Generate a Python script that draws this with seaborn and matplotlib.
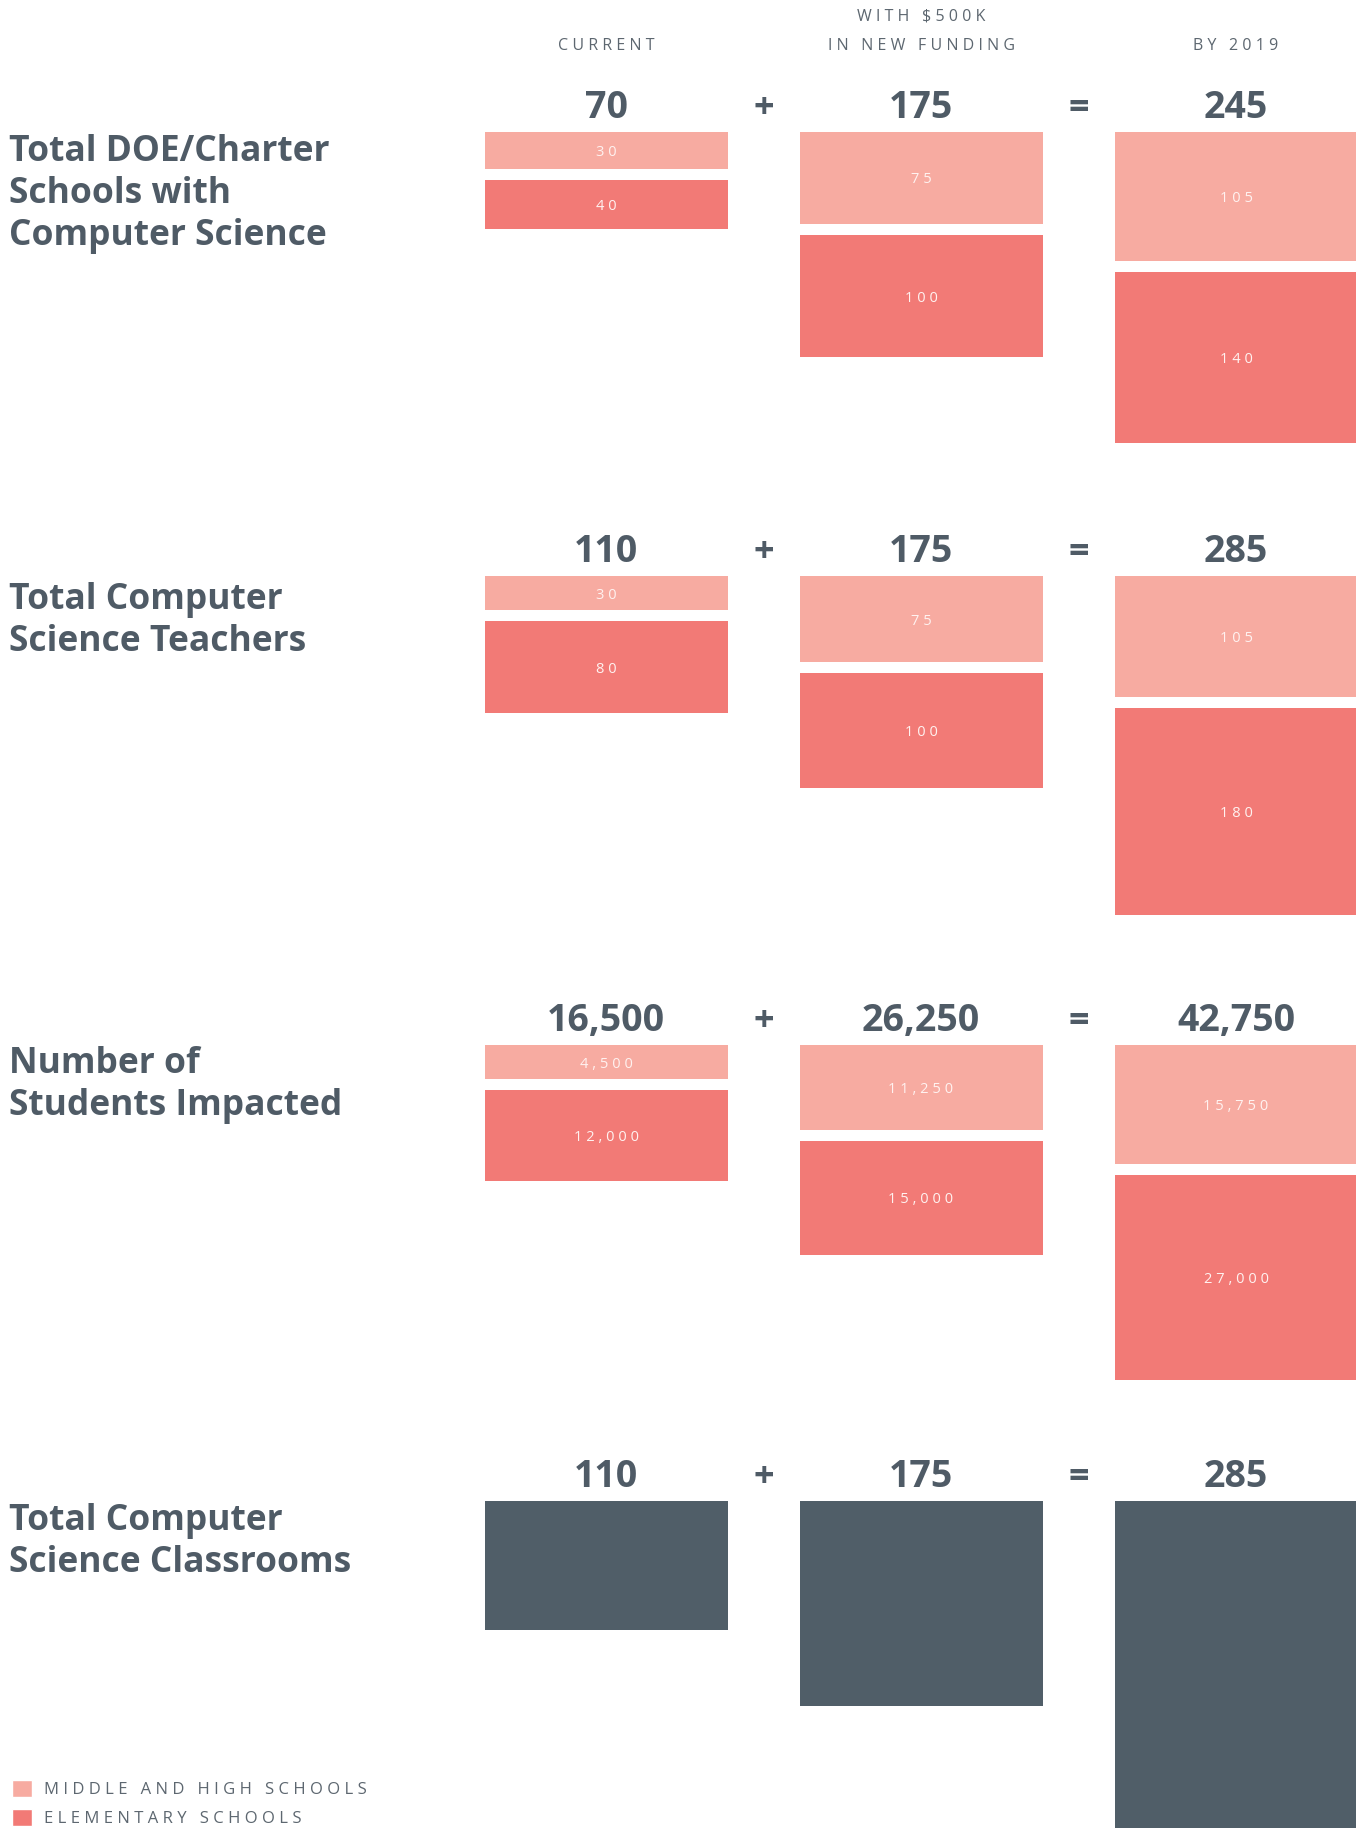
import matplotlib
matplotlib.use("Agg")
import matplotlib.pyplot as plt
import matplotlib.transforms as mtransforms
from matplotlib.patches import Patch
import pandas as pd
import seaborn as sns

# data
column_keys = ["current", "funding", "by2019"]
column_headers = [["CURRENT"], ["WITH $500K", "IN NEW FUNDING"], ["BY 2019"]]
section_titles = [
    ["Total DOE/Charter", "Schools with", "Computer Science"],
    ["Total Computer", "Science Teachers"],
    ["Number of", "Students Impacted"],
    ["Total Computer", "Science Classrooms"],
]
middle_high = [[30, 75, 105], [30, 75, 105], [4500, 11250, 15750]]
elementary = [[40, 100, 140], [80, 100, 180], [12000, 15000, 27000]]
classrooms = [110, 175, 285]
legend_labels = ["MIDDLE AND HIGH SCHOOLS", "ELEMENTARY SCHOOLS"]

# style
MID = "#f7aba1"
ELEM = "#f27a76"
DARK = "#505e68"
TXT = "#4f5b66"
LIGHT_TXT = "#5d6770"
BAR_TXT = "#fff2f0"
W, H = 1356, 1828

sec_top = [132, 576, 1045, 1501]      # px from top
sec_height = [330, 370, 360, 327]
px_per_unit = [1.225, 1.15, 0.00757, 1.17]
title_base = [161, 609, 1073, 1530]
GAP = 11
BW = 243 / 315

sns.set_theme(style="white")
plt.rcParams["font.family"] = ["Open Sans", "DejaVu Sans"]


def spaced(s):
    return "\u2009\u200a".join(s)


def rect(x, top, w, h):
    return [x / W, 1 - (top + h) / H, w / W, h / H]


fig = plt.figure(figsize=(W / 100, H / 100), dpi=100)

axes = []
for i in range(4):
    ax = fig.add_axes(rect(448.5, sec_top[i], 945, sec_height[i]))
    k = px_per_unit[i]
    gap = GAP / k
    if i < 3:
        mid, elem = middle_high[i], elementary[i]
        df = pd.DataFrame({"col": column_keys, "mid": mid, "elem": elem})
        sns.barplot(data=df, x="col", y="mid", color=MID, width=BW,
                    saturation=1, linewidth=0, ax=ax)
        sns.barplot(data=df, x="col", y="elem", color=ELEM, width=BW,
                    saturation=1, linewidth=0, ax=ax,
                    bottom=[m + gap for m in mid])
        totals = [m + e for m, e in zip(mid, elem)]
        for j in range(3):
            ax.text(j, mid[j] / 2, spaced(f"{mid[j]:,}"), ha="center",
                    va="center_baseline", color=BAR_TXT, fontsize=10.5)
            ax.text(j, mid[j] + gap + elem[j] / 2, spaced(f"{elem[j]:,}"),
                    ha="center", va="center_baseline", color=BAR_TXT,
                    fontsize=10.5)
    else:
        df = pd.DataFrame({"col": column_keys, "rooms": classrooms})
        sns.barplot(data=df, x="col", y="rooms", color=DARK, width=BW,
                    saturation=1, linewidth=0, ax=ax)
        totals = classrooms
    ax.set_ylim(sec_height[i] / k, 0)
    ax.set_xlim(-0.5, 2.5)
    ax.set_axis_off()

    for j in range(3):
        ax.annotate(f"{totals[j]:,}", xy=(j, 0), xytext=(0, 10),
                    textcoords="offset points", ha="center", va="baseline",
                    fontsize=27, fontweight="bold", color=TXT,
                    annotation_clip=False)
    for xpos, sym in [(0.5, "+"), (1.5, "=")]:
        ax.annotate(sym, xy=(xpos, 0), xytext=(0, 10),
                    textcoords="offset points", ha="center", va="baseline",
                    fontsize=26, fontweight="bold", color=TXT,
                    annotation_clip=False)

    for n, line in enumerate(section_titles[i]):
        fig.text(9 / W, 1 - (title_base[i] + 42 * n) / H, line,
                 ha="left", va="baseline", fontsize=25.5, fontweight="bold",
                 color=TXT)
    axes.append(ax)

# column headers
trans = mtransforms.blended_transform_factory(axes[0].transData, fig.transFigure)
for j, lines in enumerate(column_headers):
    for n, line in enumerate(reversed(lines)):
        fig.text(j, 1 - (50 - 29 * n) / H, spaced(line), transform=trans,
                 ha="center", va="baseline", fontsize=11.5, color=LIGHT_TXT)

handles = [Patch(facecolor=MID, label=spaced(legend_labels[0])),
           Patch(facecolor=ELEM, label=spaced(legend_labels[1]))]
fig.legend(handles=handles, loc="lower left", bbox_to_anchor=(12 / W, 1 / H),
           frameon=False, handlelength=1.2, handleheight=1.2,
           handletextpad=0.75, labelspacing=0.65, borderpad=0,
           borderaxespad=0, labelcolor=LIGHT_TXT, prop={"size": 12})

fig.savefig("out.png", dpi=100, facecolor="white")
